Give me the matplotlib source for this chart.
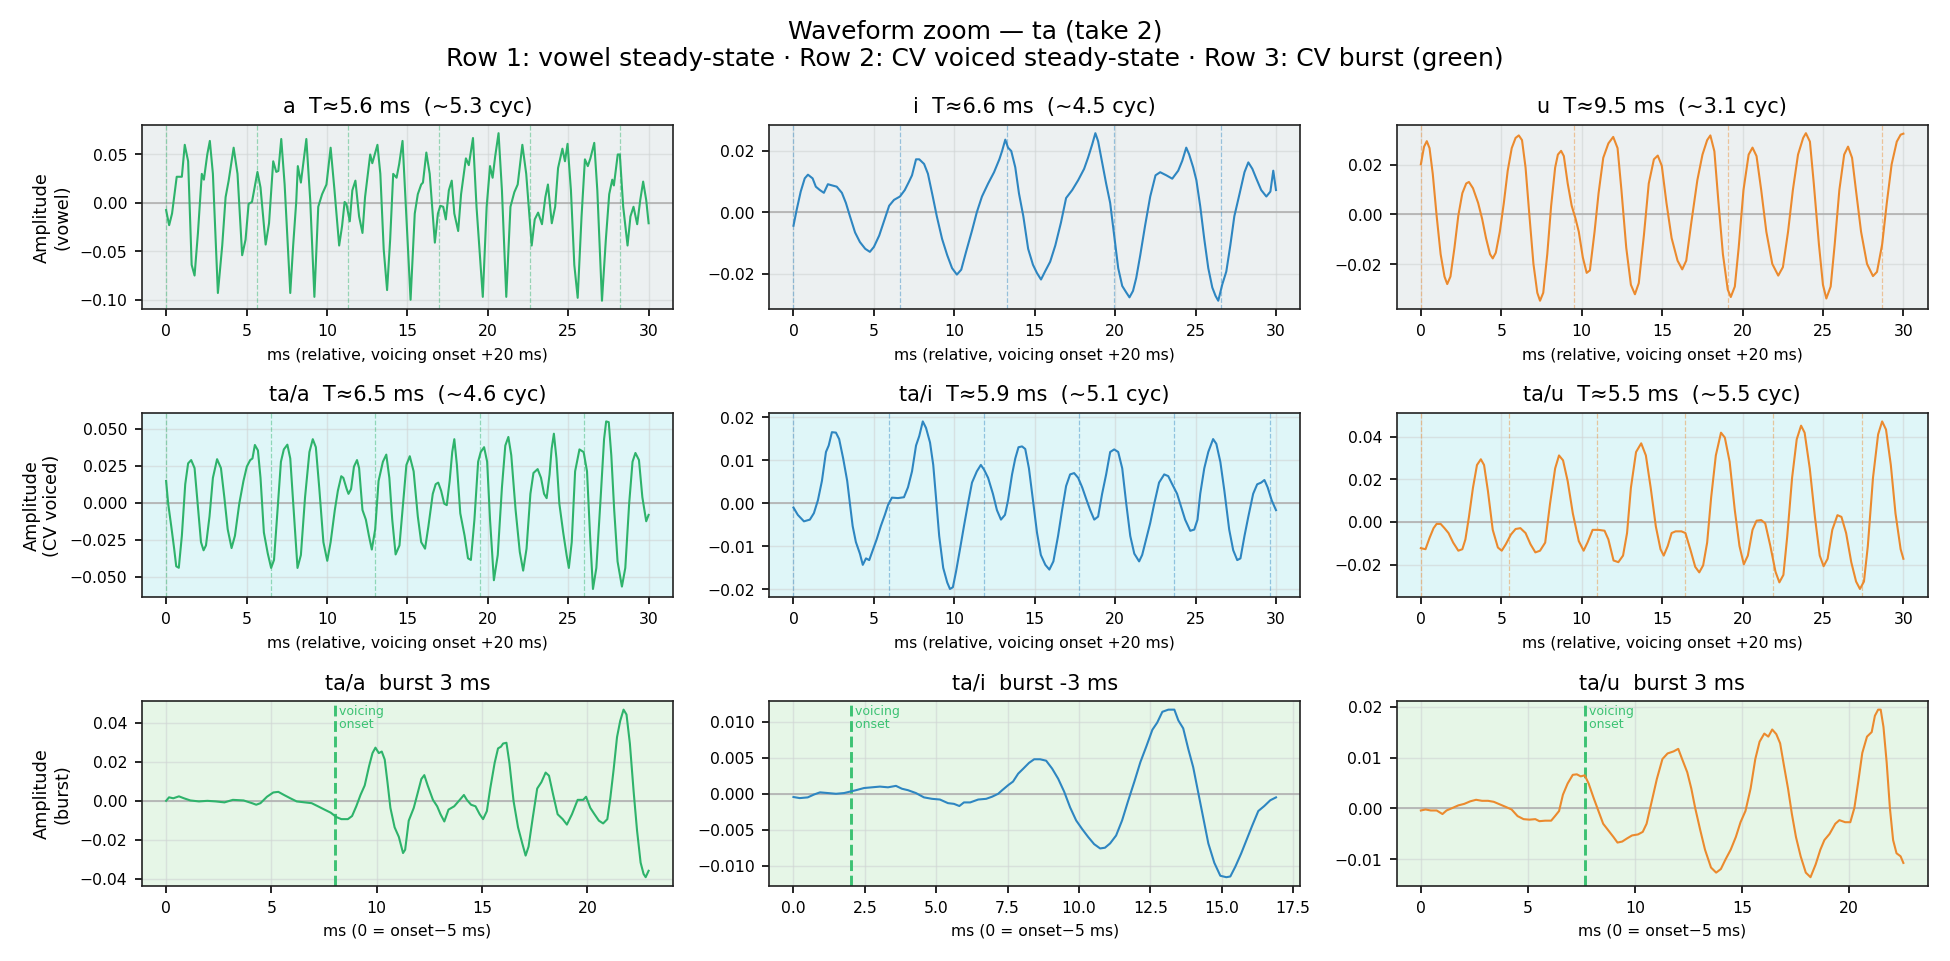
import matplotlib
matplotlib.use("Agg")
import matplotlib.pyplot as plt
from matplotlib.ticker import MultipleLocator

# ---------------- data ----------------
# Row 1: vowel steady-state
vowel_a = [(0,-0.0074),(0.19,-0.023),(0.37,-0.011),(0.58,0.016),(0.66,0.027),(0.98,0.027),(1.16,0.060),(1.37,0.043),
 (1.59,-0.064),(1.77,-0.075),(1.98,-0.031),(2.22,0.030),(2.35,0.024),(2.56,0.05),(2.72,0.064),(2.91,0.030),(3.22,-0.093),
 (3.49,-0.044),(3.70,0.006),(3.89,0.023),(4.20,0.057),(4.44,0.030),(4.73,-0.054),(4.94,-0.038),(5.13,-0.001),(5.34,0.001),
 (5.68,0.032),(5.87,0.016),(6.19,-0.043),(6.40,-0.021),(6.66,0.043),(6.85,0.032),(6.98,0.033),(7.16,0.066),(7.37,0.019),
 (7.72,-0.093),(7.90,-0.044),(8.09,0.001),(8.19,0.038),(8.38,0.021),(8.72,0.066),(8.96,0.003),(9.22,-0.097),(9.46,-0.004),
 (9.70,0.009),(9.97,0.019),(10.23,0.057),(10.47,0.013),(10.76,-0.044),(10.94,-0.024),(11.10,0.001),(11.21,-0.001),
 (11.42,-0.019),(11.58,0.013),(11.77,0.023),(12.0,-0.014),(12.21,-0.031),(12.37,0.006),(12.69,0.050),(12.82,0.041),
 (13.14,0.060),(13.32,0.030),(13.53,-0.048),(13.74,-0.090),(13.93,-0.038),(14.12,0.030),(14.33,0.026),(14.49,0.040),
 (14.70,0.064),(14.91,-0.004),(15.20,-0.100),(15.46,-0.011),(15.65,0.009),(15.86,0.019),(15.97,0.021),(16.18,0.052),
 (16.39,0.030),(16.71,-0.041),(16.90,-0.011),(17.05,-0.003),(17.23,-0.004),(17.39,-0.017),(17.58,0.013),(17.76,0.023),
 (17.92,-0.011),(18.16,-0.029),(18.34,0.009),(18.64,0.046),(18.82,0.039),(19.08,0.067),(19.30,-0.004),(19.69,-0.097),
 (19.93,-0.004),(20.14,0.038),(20.30,0.026),(20.46,0.048),(20.67,0.072),(20.88,0.013),(21.15,-0.097),(21.41,-0.004),
 (21.65,0.011),(21.86,0.019),(22.15,0.060),(22.39,0.030),(22.73,-0.044),(22.92,-0.017),(23.13,-0.010),(23.37,-0.022),
 (23.58,0.006),(23.74,0.019),(23.98,-0.021),(24.19,-0.004),(24.37,0.036),(24.64,0.056),(24.80,0.043),(24.96,0.061),
 (25.17,0.013),(25.38,-0.064),(25.59,-0.098),(25.83,-0.014),(26.04,0.045),(26.22,0.038),(26.38,0.046),(26.62,0.062),
 (26.81,0.013),(27.10,-0.101),(27.34,-0.038),(27.55,0.009),(27.74,0.024),(27.84,0.018),(28.08,0.050),(28.21,0.050),
 (28.42,-0.004),(28.69,-0.044),(28.87,-0.014),(29.06,-0.004),(29.29,-0.022),(29.48,0.003),(29.66,0.022),(29.85,0.003),
 (30.0,-0.021)]
vowel_i = [(0,-0.0044),(0.2,0.0008),(0.45,0.0067),(0.70,0.011),(0.90,0.0122),(1.19,0.011),(1.39,0.0083),(1.64,0.0072),
 (1.89,0.0063),(2.14,0.0091),(2.34,0.0088),(2.69,0.0083),(3.01,0.0063),(3.26,0.0030),(3.51,-0.0013),(3.83,-0.0066),
 (4.13,-0.0097),(4.46,-0.0119),(4.75,-0.0129),(5.0,-0.0113),(5.33,-0.0076),(5.63,-0.0029),(5.95,0.0021),(6.25,0.0040),
 (6.62,0.0051),(6.92,0.0072),(7.17,0.0098),(7.37,0.012),(7.62,0.0172),(7.82,0.0172),(8.12,0.0157),(8.36,0.0125),
 (8.66,0.0051),(8.91,-0.0013),(9.24,-0.0087),(9.56,-0.014),(9.86,-0.0182),(10.16,-0.0203),(10.43,-0.0187),(10.73,-0.0129),
 (11.10,-0.006),(11.40,0.0),(11.72,0.0051),(12.10,0.0093),(12.47,0.013),(12.80,0.0172),(12.97,0.0199),(13.17,0.0236),
 (13.34,0.021),(13.54,0.0199),(13.79,0.0146),(14.02,0.0061),(14.29,-0.0013),(14.59,-0.0119),(14.89,-0.0171),
 (15.14,-0.0198),(15.39,-0.0219),(15.64,-0.0193),(15.96,-0.0161),(16.28,-0.0108),(16.63,-0.0034),(16.95,0.0046),
 (17.33,0.0072),(17.70,0.0104),(18.07,0.0141),(18.32,0.0178),(18.57,0.022),(18.77,0.0257),(18.94,0.0231),(19.19,0.0162),
 (19.44,0.0093),(19.69,0.0030),(19.94,-0.0076),(20.19,-0.0182),(20.44,-0.024),(20.69,-0.0261),(20.89,-0.0277),
 (21.11,-0.0256),(21.31,-0.0214),(21.56,-0.014),(21.86,-0.0044),(22.18,0.0051),(22.51,0.012),(22.80,0.013),(23.18,0.012),
 (23.55,0.0109),(23.92,0.0135),(24.17,0.0167),(24.42,0.021),(24.60,0.0188),(24.85,0.0146),(25.05,0.0104),(25.29,0.0019),
 (25.54,-0.0087),(25.79,-0.0182),(26.04,-0.0245),(26.24,-0.0272),(26.41,-0.0288),(26.66,-0.0235),(26.91,-0.0193),
 (27.16,-0.0108),(27.41,-0.0013),(27.74,0.0061),(28.04,0.013),(28.28,0.0162),(28.53,0.0141),(28.78,0.0109),(29.08,0.0072),
 (29.40,0.0051),(29.65,0.0067),(29.83,0.0135),(30.0,0.0072)]
vowel_u = [(0,0.0201),(0.2,0.0272),(0.37,0.0294),(0.54,0.0266),(0.74,0.0163),(0.98,-0.0005),(1.23,-0.016),(1.47,-0.025),
 (1.64,-0.028),(1.84,-0.025),(2.09,-0.0134),(2.33,-0.0005),(2.58,0.0085),(2.82,0.0124),(2.99,0.013),(3.24,0.0105),
 (3.56,0.0046),(3.81,-0.0018),(4.05,-0.0095),(4.30,-0.016),(4.47,-0.0177),(4.66,-0.0154),(4.91,-0.007),(5.16,0.0046),
 (5.40,0.0175),(5.65,0.0266),(5.89,0.0307),(6.09,0.0317),(6.29,0.0298),(6.51,0.0188),(6.75,-0.0005),(7.0,-0.0199),
 (7.24,-0.0315),(7.41,-0.0347),(7.61,-0.0315),(7.86,-0.016),(8.10,0.0034),(8.35,0.0188),(8.52,0.024),(8.72,0.0255),
 (8.89,0.0234),(9.13,0.0124),(9.38,0.0034),(9.62,-0.0018),(9.82,-0.007),(10.07,-0.0173),(10.31,-0.0235),(10.51,-0.0225),
 (10.80,-0.007),(11.05,0.0085),(11.34,0.0227),(11.66,0.0285),(11.96,0.0311),(12.23,0.0266),(12.47,0.0098),(12.77,-0.0134),
 (13.06,-0.0283),(13.31,-0.0321),(13.55,-0.0276),(13.87,-0.0083),(14.17,0.0124),(14.49,0.0221),(14.73,0.0236),
 (14.98,0.0195),(15.27,0.0046),(15.59,-0.0095),(15.96,-0.0186),(16.25,-0.0221),(16.50,-0.0186),(16.82,-0.0031),
 (17.19,0.0137),(17.51,0.024),(17.80,0.0298),(18.0,0.0317),(18.25,0.0253),(18.49,0.0059),(18.78,-0.016),(19.08,-0.0302),
 (19.27,-0.0332),(19.52,-0.029),(19.76,-0.0134),(20.06,0.0098),(20.38,0.024),(20.62,0.0268),(20.87,0.0234),(21.16,0.0098),
 (21.48,-0.007),(21.85,-0.0199),(22.22,-0.0246),(22.51,-0.0212),(22.83,-0.007),(23.13,0.0098),(23.45,0.024),(23.77,0.0307),
 (23.94,0.0326),(24.19,0.0292),(24.43,0.0124),(24.75,-0.0121),(25.0,-0.0283),(25.21,-0.0338),(25.48,-0.029),
 (25.73,-0.0121),(26.02,0.0098),(26.32,0.024),(26.56,0.0272),(26.81,0.0227),(27.05,0.0098),(27.37,-0.007),(27.74,-0.0199),
 (28.11,-0.0248),(28.36,-0.0231),(28.68,-0.0121),(28.97,0.0046),(29.27,0.0201),(29.59,0.0292),(29.83,0.032),(30.0,0.0324)]

# Row 2: CV voiced steady-state
cv_a = [(0,0.0146),(0.13,-0.0007),(0.32,-0.0159),(0.50,-0.031),(0.63,-0.043),(0.79,-0.044),(0.98,-0.0224),(1.19,0.0124),
 (1.37,0.0265),(1.56,0.0287),(1.77,0.0233),(1.96,-0.0007),(2.17,-0.0267),(2.33,-0.0322),(2.48,-0.0289),(2.70,-0.0093),
 (2.91,0.0167),(3.17,0.0293),(3.41,0.0233),(3.62,0.0037),(3.83,-0.018),(4.07,-0.0307),(4.28,-0.0224),(4.55,-0.0007),
 (4.81,0.0146),(5.02,0.0243),(5.23,0.0287),(5.37,0.0298),(5.52,0.0389),(5.71,0.0352),(5.87,0.0167),(6.08,-0.0202),
 (6.32,-0.0343),(6.53,-0.0441),(6.71,-0.0387),(6.93,-0.005),(7.14,0.0276),(7.32,0.0359),(7.54,0.0391),(7.72,0.0298),
 (7.93,-0.005),(8.17,-0.0441),(8.38,-0.0354),(8.64,0.0037),(8.91,0.0341),(9.12,0.0428),(9.31,0.0374),(9.52,0.0102),
 (9.78,-0.0267),(10.02,-0.0393),(10.23,-0.0267),(10.49,-0.005),(10.68,0.008),(10.89,0.0178),(11.02,0.0167),(11.23,0.0091),
 (11.34,0.0059),(11.50,0.0091),(11.68,0.0243),(11.87,0.0287),(12.0,0.0233),(12.21,-0.005),(12.42,-0.0115),(12.61,-0.0224),
 (12.79,-0.0317),(13.0,-0.018),(13.21,0.0146),(13.48,0.0276),(13.69,0.0324),(13.88,0.0167),(14.06,-0.0115),(14.27,-0.035),
 (14.51,-0.0289),(14.73,-0.0007),(14.94,0.0254),(15.15,0.0313),(15.39,0.0211),(15.65,-0.0093),(15.86,-0.0267),
 (16.10,-0.0311),(16.31,-0.0159),(16.58,0.0059),(16.76,0.0124),(16.92,0.0135),(17.10,0.008),(17.29,-0.0007),
 (17.45,-0.0017),(17.63,0.0146),(17.79,0.0341),(17.92,0.0428),(18.08,0.0254),(18.29,-0.0072),(18.56,-0.0224),
 (18.77,-0.0376),(18.95,-0.0387),(19.17,-0.0115),(19.40,0.0276),(19.56,0.0341),(19.77,0.0374),(19.96,0.0276),
 (20.14,-0.0115),(20.38,-0.0524),(20.62,-0.0354),(20.88,0.0102),(21.09,0.0385),(21.28,0.0443),(21.46,0.032),(21.73,-0.005),
 (21.99,-0.0333),(22.20,-0.0459),(22.41,-0.0311),(22.65,0.0059),(22.84,0.02),(23.10,0.0226),(23.31,0.0167),(23.50,0.0059),
 (23.66,0.003),(23.84,0.0189),(23.97,0.0363),(24.11,0.0465),(24.27,0.0298),(24.45,-0.0007),(24.69,-0.0202),(24.90,-0.0354),
 (25.04,-0.0441),(25.22,-0.0267),(25.43,0.0211),(25.70,0.0359),(25.96,0.0341),(26.17,0.0211),(26.36,-0.0224),
 (26.54,-0.0583),(26.75,-0.0441),(27.02,0.0037),(27.23,0.0428),(27.36,0.0548),(27.52,0.0543),(27.68,0.032),(27.86,-0.005),
 (28.07,-0.0398),(28.34,-0.0567),(28.55,-0.0441),(28.79,-0.0007),(29.0,0.0276),(29.18,0.0335),(29.40,0.0287),
 (29.61,0.0037),(29.85,-0.0126),(30.0,-0.0083)]
cv_i = [(0,-0.001),(0.27,-0.0027),(0.65,-0.0042),(1.02,-0.0038),(1.27,-0.0023),(1.52,0.0007),(1.77,0.0052),(2.02,0.0119),
 (2.19,0.0134),(2.39,0.0165),(2.64,0.0164),(2.84,0.0149),(3.09,0.0104),(3.34,0.0052),(3.51,-0.0001),(3.68,-0.0053),
 (3.88,-0.009),(4.13,-0.0117),(4.31,-0.0143),(4.51,-0.0128),(4.71,-0.0132),(4.93,-0.0109),(5.18,-0.0083),(5.43,-0.0053),
 (5.68,-0.0027),(5.88,-0.0004),(6.12,0.0013),(6.50,0.0012),(6.87,0.0014),(7.12,0.0037),(7.37,0.0074),(7.62,0.0134),
 (7.82,0.0156),(8.04,0.019),(8.24,0.0175),(8.49,0.0141),(8.69,0.0089),(8.86,0.0014),(9.06,-0.0076),(9.31,-0.015),
 (9.56,-0.0184),(9.73,-0.0199),(9.91,-0.0195),(10.11,-0.0158),(10.36,-0.0105),(10.60,-0.0053),(10.85,-0.0001),
 (11.10,0.0048),(11.40,0.0074),(11.65,0.0089),(11.85,0.0078),(12.10,0.0059),(12.40,0.0022),(12.65,-0.0016),
 (12.90,-0.0038),(13.15,-0.0027),(13.34,0.0007),(13.59,0.0067),(13.79,0.0104),(13.99,0.013),(14.21,0.0132),(14.41,0.0126),
 (14.64,0.0081),(14.89,0.0007),(15.14,-0.0068),(15.38,-0.012),(15.66,-0.0143),(15.91,-0.0154),(16.16,-0.0135),
 (16.45,-0.0076),(16.70,-0.0016),(16.95,0.004),(17.20,0.0067),(17.45,0.007),(17.70,0.0059),(17.95,0.0037),(18.20,0.001),
 (18.45,-0.0016),(18.70,-0.0038),(18.94,-0.0031),(19.19,0.0022),(19.44,0.0067),(19.69,0.0119),(19.94,0.0125),
 (20.19,0.0119),(20.44,0.0081),(20.69,-0.0001),(20.94,-0.0076),(21.19,-0.0117),(21.49,-0.0135),(21.68,-0.012),
 (21.93,-0.0083),(22.18,-0.0046),(22.43,-0.0001),(22.73,0.0048),(23.05,0.0067),(23.30,0.0063),(23.55,0.0044),
 (23.85,0.0022),(24.10,-0.0008),(24.35,-0.0038),(24.67,-0.0064),(24.92,-0.0061),(25.12,-0.0038),(25.29,0.0022),
 (25.54,0.0081),(25.79,0.0119),(26.09,0.0149),(26.29,0.0138),(26.54,0.0096),(26.79,0.0029),(27.09,-0.0061),
 (27.34,-0.0109),(27.59,-0.0132),(27.79,-0.0128),(28.04,-0.0076),(28.28,-0.0031),(28.58,0.0022),(28.83,0.0044),
 (29.08,0.0048),(29.28,0.0054),(29.48,0.0037),(29.73,0.0007),(30.0,-0.0016)]
cv_u = [(0,-0.0123),(0.29,-0.0128),(0.54,-0.0075),(0.79,-0.0029),(0.98,-0.0009),(1.23,-0.0009),(1.47,-0.0029),
 (1.72,-0.0052),(2.01,-0.0097),(2.33,-0.0135),(2.58,-0.0128),(2.77,-0.0082),(2.99,0.0024),(3.24,0.0161),(3.49,0.0268),
 (3.73,0.0295),(3.93,0.0268),(4.17,0.0146),(4.47,-0.0037),(4.79,-0.012),(5.03,-0.0135),(5.28,-0.0105),(5.60,-0.0059),
 (5.89,-0.0033),(6.19,-0.0029),(6.51,-0.0052),(6.82,-0.0105),(7.12,-0.0143),(7.41,-0.0135),(7.73,-0.0097),(8.03,0.0085),
 (8.35,0.0252),(8.59,0.0313),(8.84,0.029),(9.13,0.0192),(9.45,0.004),(9.82,-0.009),(10.12,-0.0135),(10.36,-0.0097),
 (10.68,-0.0037),(11.05,-0.0037),(11.42,-0.0041),(11.66,-0.0082),(11.98,-0.0181),(12.28,-0.0189),(12.57,-0.0158),
 (12.82,-0.0052),(13.06,0.0161),(13.38,0.0329),(13.70,0.037),(13.99,0.0313),(14.29,0.0161),(14.61,-0.0021),
 (14.90,-0.0128),(15.10,-0.0158),(15.35,-0.0113),(15.59,-0.0052),(15.84,-0.0044),(16.20,-0.0044),(16.45,-0.0052),
 (16.75,-0.0128),(17.06,-0.0211),(17.31,-0.0237),(17.55,-0.0204),(17.80,-0.0097),(18.05,0.0116),(18.34,0.0313),
 (18.66,0.042),(18.90,0.0397),(19.20,0.0283),(19.52,0.0055),(19.81,-0.0113),(20.08,-0.0199),(20.33,-0.0158),
 (20.62,-0.0037),(20.87,0.0006),(21.16,0.0009),(21.41,-0.0006),(21.73,-0.0113),(22.05,-0.0234),(22.29,-0.0284),
 (22.54,-0.0249),(22.78,-0.0067),(23.08,0.0207),(23.37,0.0389),(23.64,0.0453),(23.86,0.042),(24.18,0.0252),(24.50,0.0024),
 (24.80,-0.0158),(25.04,-0.0208),(25.29,-0.0173),(25.58,-0.0037),(25.90,0.0032),(26.15,0.0024),(26.44,-0.0052),
 (26.76,-0.0189),(27.06,-0.028),(27.30,-0.0315),(27.55,-0.028),(27.79,-0.0113),(28.11,0.0207),(28.43,0.0412),
 (28.68,0.0473),(28.92,0.0435),(29.22,0.0268),(29.51,0.004),(29.83,-0.0128),(30.0,-0.0173)]

# Row 3: CV burst
burst_a = [(0,0.0),(0.14,0.0018),(0.34,0.0013),(0.61,0.0023),(0.85,0.0013),(1.15,0.0002),(1.56,-0.0003),(1.96,0.0),
 (2.36,-0.0003),(2.77,-0.0008),(3.17,0.0005),(3.68,0.0002),(4.08,-0.0012),(4.28,-0.002),(4.48,-0.0012),(4.79,0.0021),
 (5.09,0.0043),(5.33,0.0046),(5.60,0.003),(5.90,0.0013),(6.20,-0.0003),(6.51,-0.0007),(6.91,-0.0012),(7.21,-0.0028),
 (7.52,-0.0045),(7.82,-0.0061),(8.08,-0.0083),(8.32,-0.0094),(8.63,-0.0094),(8.83,-0.0078),(9.03,-0.0028),(9.23,0.003),
 (9.43,0.0079),(9.64,0.0179),(9.80,0.0245),(9.94,0.0273),(10.10,0.0245),(10.24,0.0253),(10.38,0.0212),(10.51,0.0096),
 (10.65,-0.0036),(10.85,-0.0136),(11.05,-0.0185),(11.25,-0.0268),(11.35,-0.0251),(11.52,-0.0102),(11.76,-0.0036),
 (11.96,0.0046),(12.12,0.0112),(12.26,0.0132),(12.42,0.0079),(12.67,0.0005),(12.87,-0.0028),(13.03,-0.0069),
 (13.21,-0.0106),(13.41,-0.0045),(13.68,-0.0028),(13.88,-0.0003),(14.14,0.003),(14.28,0.0005),(14.48,-0.002),
 (14.69,-0.0028),(14.89,-0.0069),(15.05,-0.0094),(15.23,-0.0053),(15.39,0.0063),(15.60,0.0195),(15.76,0.0269),
 (15.90,0.0278),(16.0,0.0294),(16.16,0.0298),(16.30,0.0195),(16.50,-0.0003),(16.71,-0.0136),(16.91,-0.0218),
 (17.07,-0.0281),(17.21,-0.0235),(17.41,-0.0086),(17.62,0.0063),(17.82,0.0096),(18.02,0.0145),(18.18,0.0129),
 (18.38,0.003),(18.59,-0.0069),(18.83,-0.0094),(19.03,-0.0122),(19.27,-0.0069),(19.54,0.0005),(19.80,0.0005),
 (19.94,0.0021),(20.14,-0.0036),(20.34,-0.0069),(20.55,-0.0102),(20.75,-0.0116),(20.95,-0.0094),(21.09,0.0013),
 (21.25,0.0162),(21.41,0.0327),(21.56,0.041),(21.72,0.0468),(21.86,0.0443),(22.02,0.0294),(22.20,0.0046),(22.36,-0.0152),
 (22.53,-0.0317),(22.67,-0.0375),(22.77,-0.0392),(22.91,-0.0359)]
burst_i = [(0,-0.00045),(0.22,-0.0006),(0.50,-0.0005),(0.72,-0.0001),(0.93,0.0002),(1.21,0.0001),(1.49,0.0),(1.77,0.0001),
 (1.98,0.0003),(2.19,0.0005),(2.47,0.0008),(2.75,0.0009),(3.03,0.001),(3.31,0.0009),(3.59,0.0011),(3.80,0.0007),
 (4.01,0.0005),(4.29,0.0001),(4.57,-0.0005),(4.85,-0.0007),(5.13,-0.0008),(5.41,-0.0013),(5.62,-0.0014),(5.81,-0.0017),
 (5.97,-0.0012),(6.19,-0.0012),(6.47,-0.0008),(6.75,-0.0007),(6.96,-0.0004),(7.17,0.0),(7.31,0.0005),(7.52,0.0012),
 (7.69,0.0017),(7.87,0.0028),(8.05,0.0035),(8.25,0.0043),(8.43,0.0048),(8.64,0.0048),(8.85,0.0046),(9.06,0.0035),
 (9.27,0.0021),(9.48,0.0003),(9.69,-0.0019),(9.90,-0.0037),(10.11,-0.0049),(10.32,-0.006),(10.53,-0.007),(10.74,-0.0076),
 (10.91,-0.0075),(11.09,-0.0069),(11.30,-0.0058),(11.51,-0.0037),(11.72,-0.001),(11.94,0.0017),(12.15,0.0044),
 (12.36,0.0066),(12.57,0.0089),(12.74,0.0099),(12.92,0.0114),(13.13,0.0117),(13.34,0.0117),(13.48,0.0102),(13.65,0.0091),
 (13.83,0.0062),(14.0,0.0037),(14.18,0.0001),(14.35,-0.0033),(14.53,-0.0069),(14.74,-0.0096),(14.95,-0.0114),
 (15.16,-0.0116),(15.30,-0.0115),(15.48,-0.0101),(15.68,-0.0083),(15.86,-0.0065),(16.07,-0.0044),(16.28,-0.0024),
 (16.49,-0.0017),(16.70,-0.0009),(16.90,-0.0005)]
burst_u = [(0,-0.0004),(0.22,-0.0002),(0.46,-0.0004),(0.74,-0.0004),(1.01,-0.0011),(1.20,-0.0004),(1.48,0.0001),
 (1.75,0.0006),(2.03,0.0009),(2.31,0.0014),(2.58,0.0017),(2.86,0.0015),(3.14,0.0015),(3.41,0.0013),(3.69,0.0008),
 (3.97,0.0003),(4.24,-0.0002),(4.52,-0.0015),(4.80,-0.0021),(5.07,-0.0022),(5.35,-0.0021),(5.54,-0.0025),(5.81,-0.0024),
 (6.09,-0.0024),(6.27,-0.0015),(6.46,-0.0005),(6.64,0.0027),(6.86,0.0049),(7.10,0.0066),(7.29,0.0067),(7.47,0.0063),
 (7.66,0.0065),(7.84,0.0049),(8.08,0.002),(8.30,-0.0005),(8.52,-0.003),(8.76,-0.0043),(9.0,-0.0056),(9.19,-0.0067),
 (9.41,-0.0065),(9.63,-0.0059),(9.87,-0.0053),(10.15,-0.0051),(10.37,-0.0046),(10.55,-0.003),(10.79,0.0014),(11.03,0.0058),
 (11.29,0.0097),(11.53,0.0108),(11.81,0.0112),(12.03,0.0117),(12.21,0.0097),(12.45,0.0071),(12.64,0.0039),(12.82,0.0001),
 (13.06,-0.0043),(13.28,-0.0081),(13.56,-0.0116),(13.80,-0.0126),(14.02,-0.0119),(14.24,-0.01),(14.48,-0.0081),
 (14.72,-0.0056),(14.94,-0.0027),(15.17,-0.0005),(15.41,0.0039),(15.63,0.0097),(15.83,0.0131),(16.05,0.0147),
 (16.24,0.0141),(16.42,0.0155),(16.61,0.0146),(16.79,0.0128),(16.97,0.0084),(17.16,0.0039),(17.34,-0.0011),
 (17.53,-0.0056),(17.75,-0.0094),(17.99,-0.0126),(18.21,-0.0135),(18.45,-0.011),(18.67,-0.0081),(18.86,-0.0062),
 (19.10,-0.005),(19.37,-0.003),(19.56,-0.0023),(19.83,-0.0027),(20.07,-0.0027),(20.26,0.0001),(20.44,0.0052),
 (20.63,0.0109),(20.85,0.0141),(21.07,0.015),(21.22,0.0182),(21.37,0.0194),(21.49,0.0194),(21.62,0.016),(21.77,0.009),
 (21.92,0.0001),(22.07,-0.0062),(22.23,-0.0088),(22.42,-0.0094),(22.55,-0.0107)]

# period markers (ms) per panel
marks_vowel_a = [0, 5.65, 11.3, 16.95, 22.6, 28.25]
marks_vowel_i = [0, 6.64, 13.28, 19.92, 26.56]
marks_vowel_u = [0, 9.55, 19.1, 28.65]
marks_cv_a = [0, 6.5, 13.0, 19.5, 26.0]
marks_cv_i = [0, 5.92, 11.84, 17.76, 23.68, 29.6]
marks_cv_u = [0, 5.48, 10.96, 16.44, 21.92, 27.4]
onset_burst = [8.0, 2.0, 7.65]

titles_row1 = ["a  T\u22485.6 ms  (~5.3 cyc)", "i  T\u22486.6 ms  (~4.5 cyc)", "u  T\u22489.5 ms  (~3.1 cyc)"]
titles_row2 = ["ta/a  T\u22486.5 ms  (~4.6 cyc)", "ta/i  T\u22485.9 ms  (~5.1 cyc)", "ta/u  T\u22485.5 ms  (~5.5 cyc)"]
titles_row3 = ["ta/a  burst 3 ms", "ta/i  burst -3 ms", "ta/u  burst 3 ms"]
row_ylabels = ["Amplitude\n(vowel)", "Amplitude\n(CV voiced)", "Amplitude\n(burst)"]

# ---------------- style ----------------
col_colors = ["#2eb36b", "#2e86c1", "#eb8a2e"]
row_bg = ["#ecf0f1", "#dff6f8", "#e6f6e7"]
onset_color = "#3cc273"

fig, axes = plt.subplots(3, 3, figsize=(13.0, 6.41), dpi=150)

rows = [
    (vowel_a, vowel_i, vowel_u),
    (cv_a, cv_i, cv_u),
    (burst_a, burst_i, burst_u),
]
marks = [
    (marks_vowel_a, marks_vowel_i, marks_vowel_u),
    (marks_cv_a, marks_cv_i, marks_cv_u),
]
titles = [titles_row1, titles_row2, titles_row3]
xlabels = ["ms (relative, voicing onset +20 ms)", "ms (relative, voicing onset +20 ms)", "ms (0 = onset\u22125 ms)"]

for r in range(3):
    for c in range(3):
        ax = axes[r, c]
        data = rows[r][c]
        t = [p[0] for p in data]
        v = [p[1] for p in data]
        ax.set_facecolor(row_bg[r])
        ax.grid(True, color="#d0d4d4", alpha=0.6, linewidth=0.7)
        ax.set_axisbelow(True)
        ax.axhline(0, color="#b0b0b0", linewidth=0.8, zorder=1)
        if r < 2:
            for m in marks[r][c]:
                ax.axvline(m, color=col_colors[c], linestyle="--", linewidth=0.6, alpha=0.45, zorder=1)
        ax.plot(t, v, color=col_colors[c], linewidth=1.0, zorder=3)
        if r == 2:
            x0 = onset_burst[c]
            ax.axvline(x0, color=onset_color, linestyle="--", linewidth=1.4, zorder=2)
            ax.text(x0, 0.985, " voicing\n onset", transform=ax.get_xaxis_transform(),
                    color=onset_color, fontsize=6, va="top", ha="left", linespacing=1.0)
        ax.set_title(titles[r][c], fontsize=10)
        ax.set_xlabel(xlabels[r], fontsize=7.5)
        ax.tick_params(labelsize=7.5)
        if c == 0:
            ax.set_ylabel(row_ylabels[r], fontsize=8.5)
        for s in ax.spines.values():
            s.set_color("#222222")

axes[2, 1].yaxis.set_major_locator(MultipleLocator(0.005))

fig.suptitle("Waveform zoom \u2014 ta (take 2)\nRow 1: vowel steady-state \u00b7 Row 2: CV voiced steady-state \u00b7 Row 3: CV burst (green)",
             fontsize=12)
fig.tight_layout()
fig.savefig("out.png", dpi=150)
